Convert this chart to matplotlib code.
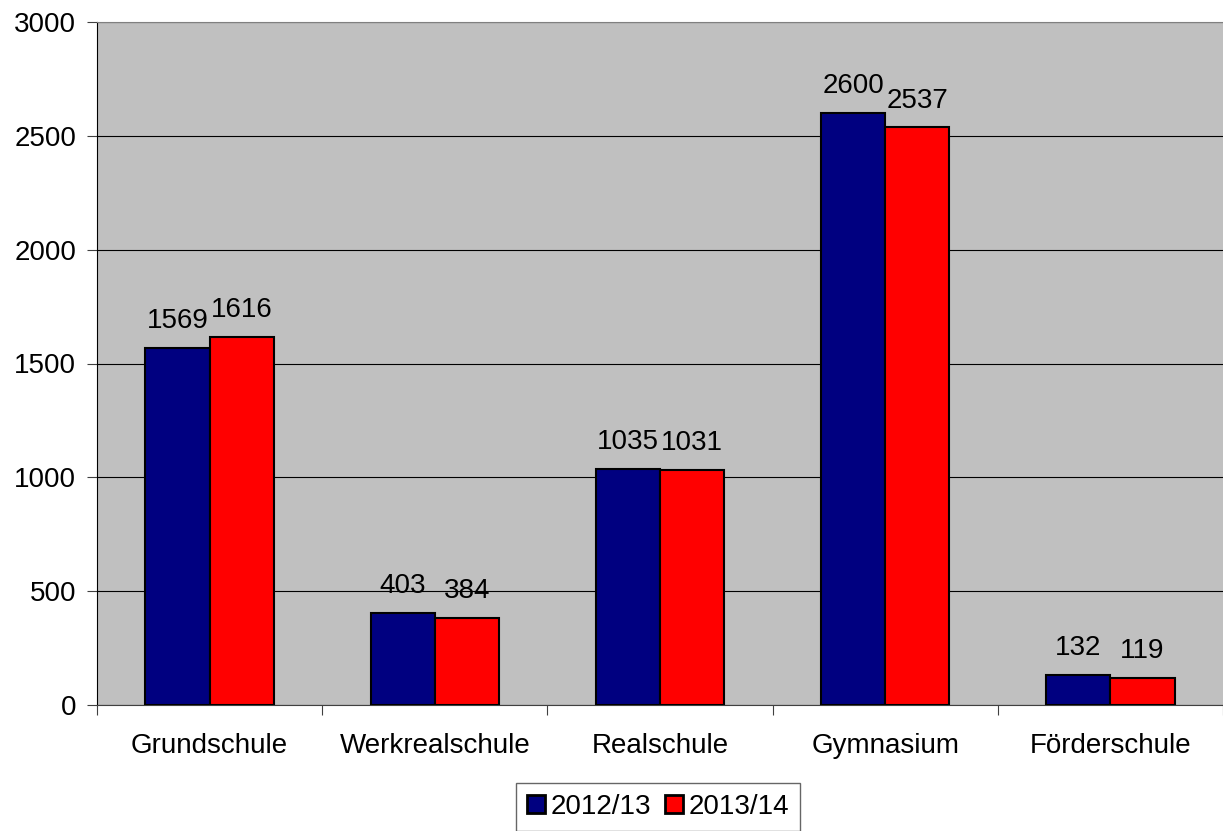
import numpy as np
import matplotlib.pyplot as plt

plt.rcParams['font.family'] = ['Liberation Sans', 'DejaVu Sans']

categories = ['Grundschule', 'Werkrealschule', 'Realschule', 'Gymnasium', 'Förderschule']
series_names = ['2012/13', '2013/14']
values_1213 = [1569, 403, 1035, 2600, 132]
values_1314 = [1616, 384, 1031, 2537, 119]
colors = ['#000080', '#FF0000']

fig = plt.figure(figsize=(12.23, 8.31), dpi=100)
ax = fig.add_axes([97 / 1223, 1 - 705 / 831, 1 - 97 / 1223, (705 - 22) / 831])
ax.set_facecolor('#C0C0C0')

x = np.arange(len(categories))
w = 0.285
for i, (vals, name) in enumerate(zip([values_1213, values_1314], series_names)):
    pos = x + (i - 0.5) * w
    bars = ax.bar(pos, vals, w, color=colors[i], edgecolor='black', linewidth=1.5,
                  label=name, zorder=3)
    for b, v in zip(bars, vals):
        ax.annotate(str(v), (b.get_x() + b.get_width() / 2, v), xytext=(0, 10),
                    textcoords='offset points', ha='center', va='bottom', fontsize=20)

ax.set_xlim(-0.5, len(categories) - 0.5)
ax.set_ylim(0, 3000)
ax.set_yticks(np.arange(0, 3001, 500))
ax.yaxis.grid(True, color='black', linewidth=0.8, zorder=0)
ax.set_axisbelow(True)

ax.set_xticks(np.arange(-0.5, len(categories), 1.0))
ax.set_xticklabels([])
ax.set_xticks(x, minor=True)
ax.set_xticklabels(categories, minor=True)
ax.tick_params(axis='x', which='minor', length=0, pad=20, labelsize=20)
ax.tick_params(axis='x', which='major', length=7, color='#404040')
ax.tick_params(axis='y', length=7, labelsize=20, pad=8, color='#404040')

ax.spines['top'].set_color('#808080')
ax.spines['right'].set_visible(False)
ax.spines['left'].set_color('black')
ax.spines['bottom'].set_color('#404040')

leg = fig.legend(loc='lower center', bbox_to_anchor=(658 / 1223, 0.0), ncol=2,
                 fontsize=20, frameon=True, fancybox=False, edgecolor='#404040',
                 handlelength=0.65, handleheight=0.65, handletextpad=0.2,
                 columnspacing=0.5, borderpad=0.4, borderaxespad=0.0)
leg.get_frame().set_linewidth(1.0)
for h in leg.legend_handles:
    h.set_linewidth(2.0)

fig.savefig('out.png', dpi=100)
